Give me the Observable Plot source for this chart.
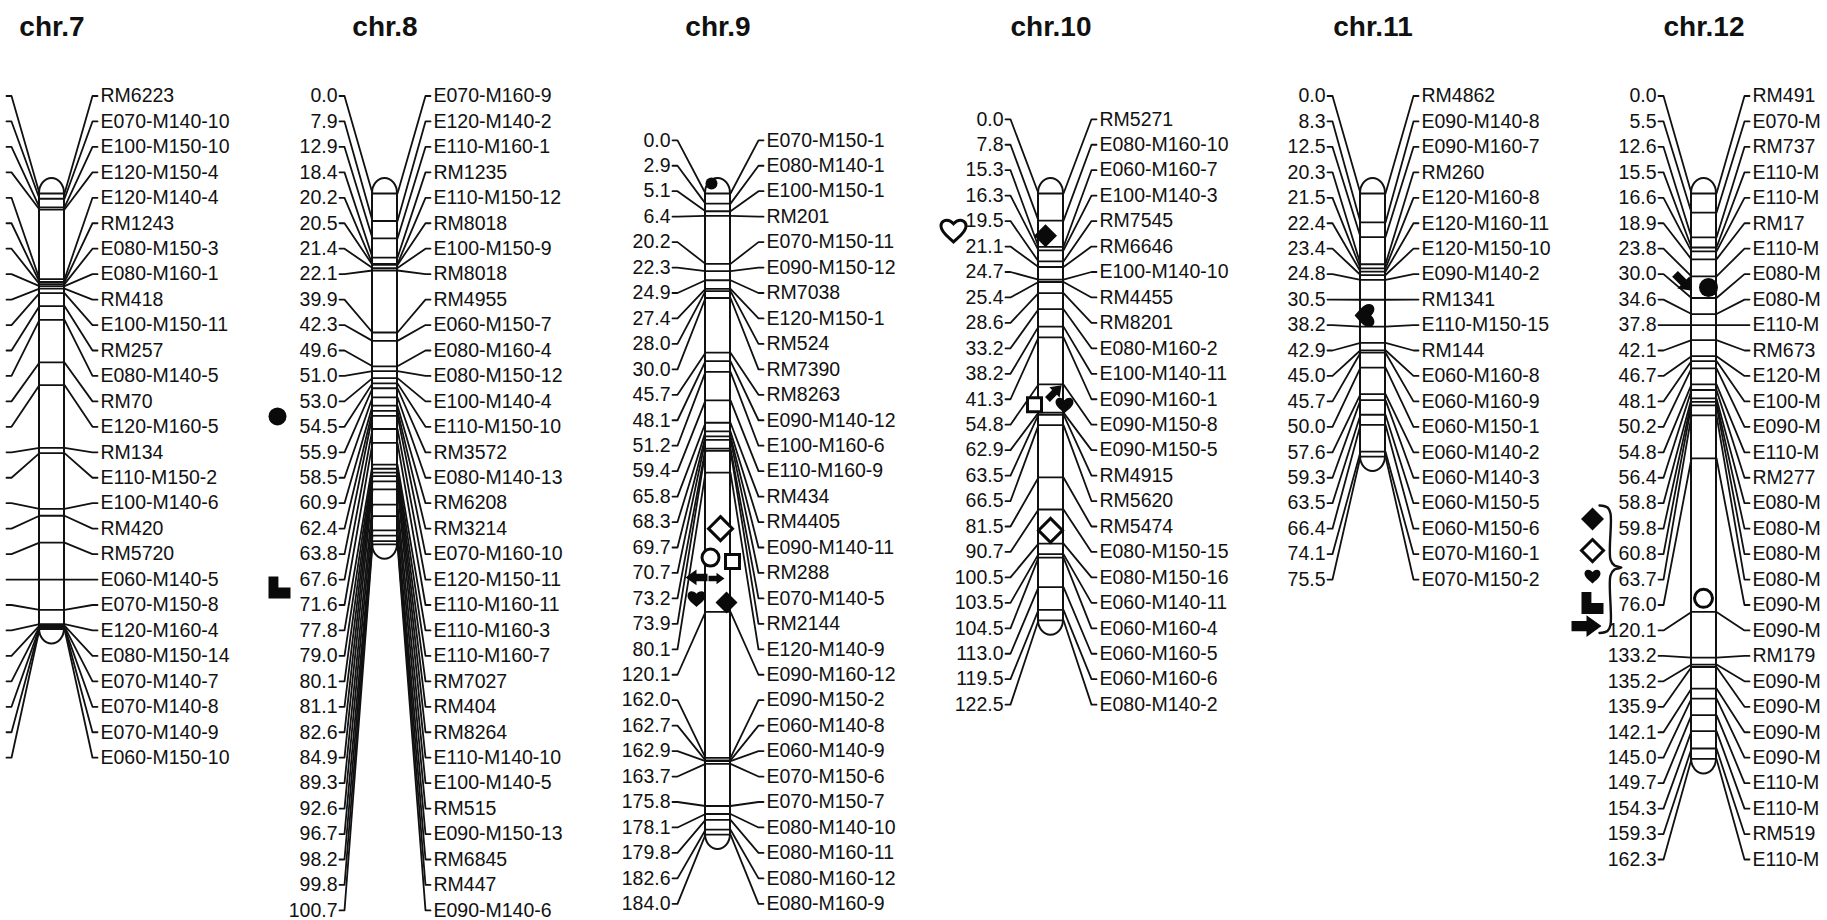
<!DOCTYPE html>
<html><head><meta charset="utf-8">
<script src="https://cdn.jsdelivr.net/npm/d3@7"></script>
<script src="https://cdn.jsdelivr.net/npm/@observablehq/plot@0.6"></script>
<style>
html,body{margin:0;padding:0;background:#fff;overflow:hidden;}
#chart{width:1827px;height:920px;overflow:hidden;}
</style></head><body><div id="chart"></div>
<script>
// ================= DATA =================
const chromosomes = ["chr.7","chr.8","chr.9","chr.10","chr.11","chr.12"];

const chr7Markers = ["RM6223","E070-M140-10","E100-M150-10","E120-M150-4","E120-M140-4","RM1243","E080-M150-3","E080-M160-1","RM418","E100-M150-11","RM257","E080-M140-5","RM70","E120-M160-5","RM134","E110-M150-2","E100-M140-6","RM420","RM5720","E060-M140-5","E070-M150-8","E120-M160-4","E080-M150-14","E070-M140-7","E070-M140-8","E070-M140-9","E060-M150-10"];
// chr.7 position labels are cut off in the source: estimated from the band placement
const chr7Positions = [0.0,1.5,4.0,4.6,24.6,25.4,26.0,26.6,27.3,28.6,32.3,36.3,48.5,55.0,73.0,74.5,90.5,92.5,100.2,110.8,119.5,123.6,124.0,124.3,124.6,124.8,125.0];

const chr8Markers = ["E070-M160-9","E120-M140-2","E110-M160-1","RM1235","E110-M150-12","RM8018","E100-M150-9","RM8018","RM4955","E060-M150-7","E080-M160-4","E080-M150-12","E100-M140-4","E110-M150-10","RM3572","E080-M140-13","RM6208","RM3214","E070-M160-10","E120-M150-11","E110-M160-11","E110-M160-3","E110-M160-7","RM7027","RM404","RM8264","E110-M140-10","E100-M140-5","RM515","E090-M150-13","RM6845","RM447","E090-M140-6"];
const chr8Positions = [0.0,7.9,12.9,18.4,20.2,20.5,21.4,22.1,39.9,42.3,49.6,51.0,53.0,54.5,55.9,58.5,60.9,62.4,63.8,67.6,71.6,77.8,79.0,80.1,81.1,82.6,84.9,89.3,92.6,96.7,98.2,99.8,100.7];

const chr9Markers = ["E070-M150-1","E080-M140-1","E100-M150-1","RM201","E070-M150-11","E090-M150-12","RM7038","E120-M150-1","RM524","RM7390","RM8263","E090-M140-12","E100-M160-6","E110-M160-9","RM434","RM4405","E090-M140-11","RM288","E070-M140-5","RM2144","E120-M140-9","E090-M160-12","E090-M150-2","E060-M140-8","E060-M140-9","E070-M150-6","E070-M150-7","E080-M140-10","E080-M160-11","E080-M160-12","E080-M160-9"];
const chr9Positions = [0.0,2.9,5.1,6.4,20.2,22.3,24.9,27.4,28.0,30.0,45.7,48.1,51.2,59.4,65.8,68.3,69.7,70.7,73.2,73.9,80.1,120.1,162.0,162.7,162.9,163.7,175.8,178.1,179.8,182.6,184.0];

const chr10Markers = ["RM5271","E080-M160-10","E060-M160-7","E100-M140-3","RM7545","RM6646","E100-M140-10","RM4455","RM8201","E080-M160-2","E100-M140-11","E090-M160-1","E090-M150-8","E090-M150-5","RM4915","RM5620","RM5474","E080-M150-15","E080-M150-16","E060-M140-11","E060-M160-4","E060-M160-5","E060-M160-6","E080-M140-2"];
const chr10Positions = [0.0,7.8,15.3,16.3,19.5,21.1,24.7,25.4,28.6,33.2,38.2,41.3,54.8,62.9,63.5,66.5,81.5,90.7,100.5,103.5,104.5,113.0,119.5,122.5];

const chr11Markers = ["RM4862","E090-M140-8","E090-M160-7","RM260","E120-M160-8","E120-M160-11","E120-M150-10","E090-M140-2","RM1341","E110-M150-15","RM144","E060-M160-8","E060-M160-9","E060-M150-1","E060-M140-2","E060-M140-3","E060-M150-5","E060-M150-6","E070-M160-1","E070-M150-2"];
const chr11Positions = [0.0,8.3,12.5,20.3,21.5,22.4,23.4,24.8,30.5,38.2,42.9,45.0,45.7,50.0,57.6,59.3,63.5,66.4,74.1,75.5];

// chr.12 marker names are cut by the right edge of the source: only the visible part is kept
const chr12Markers = ["RM491","E070-M","RM737","E110-M","E110-M","RM17","E110-M","E080-M","E080-M","E110-M","RM673","E120-M","E100-M","E090-M","E110-M","RM277","E080-M","E080-M","E080-M","E080-M","E090-M","E090-M","RM179","E090-M","E090-M","E090-M","E090-M","E110-M","E110-M","RM519","E110-M"];
const chr12Positions = [0.0,5.5,12.6,15.5,16.6,18.9,23.8,30.0,34.6,37.8,42.1,46.7,48.1,50.2,54.8,56.4,58.8,59.8,60.8,63.7,76.0,120.1,133.2,135.2,135.9,142.1,145.0,149.7,154.3,159.3,162.3];

// QTL symbols drawn on the chromosomes (position in cM)
const innerQtlChr   = ["chr.9","chr.9","chr.9","chr.9","chr.9","chr.9","chr.9","chr.9","chr.10","chr.10","chr.10","chr.10","chr.10","chr.11","chr.12","chr.12","chr.12"];
const innerQtlPos   = [-2.9,96.2,104.5,105.6,110.2,110.5,116.2,117.4,12.1,57.1,60.6,60.6,96.7,35.0,25.5,27.0,116.2];
const innerQtlShape = ["circle","diamond","circle","square","arrow","arrow","heart","diamond","diamond","arrow","heart","square","diamond","heart","arrow","circle","circle"];
const innerQtlOpen  = [false,true,true,true,false,false,false,false,false,false,false,true,true,false,false,false,true];

// QTL symbols drawn left of the position labels (anchored to label slot index)
const sideQtlChr   = ["chr.8","chr.8","chr.10","chr.12","chr.12","chr.12","chr.12","chr.12"];
const sideQtlSlot  = [12.59,19.31,4.35,16.62,17.86,18.86,19.92,20.83];
const sideQtlShape = ["circle","lblock","heart","diamond","diamond","heart","lblock","arrow"];
const sideQtlOpen  = [false,false,true,false,true,false,false,false];

// bracket grouping QTLs (label slot span)
const braceChr = ["chr.12"];
const braceFrom = [16.09];
const braceTip = [18.53];
const braceTo = [21.1];

// ================= LAYOUT (styling only) =================
const W = 1827, H = 920;
const Y0 = 193, PXCM = 3.484;          // pixel row of 0 cM, pixels per cM
const chromLeft = [39, 372, 705, 1038, 1360, 1691];
const CW = 25;                          // chromosome width
const labelTop = [95.5, 95.5, 139.8, 118.8, 95.5, 95.5];
const STEP = 25.45;                     // label spacing
const FONT = "'Liberation Sans', Arial, Helvetica, sans-serif";
const LFS = 19.5;
const INK = "#111";
const innerQtlDx = [-6.5,2.5,-7.5,14.5,-21.5,-1.5,-21.5,8.5,-5.5,3.5,13.5,-16.5,-0.5,-7.5,-20.5,4.5,-0.5];
const innerQtlR  = [6,12,8.5,7,11,8,9,11,11.5,10,9,7,12,11.5,12,9.5,9];
const innerQtlRot= [0,0,0,0,180,0,0,0,0,-45,0,0,0,90,45,0,0];
const sideQtlDx = [-95,-93,-85,-99,-99,-99,-99,-105];
const sideQtlR  = [9,11,12.5,11.5,11,8,11,15];

const toCM = px => (px - Y0) / PXCM;
const labelY = (k, slot) => toCM(labelTop[k] + slot * STEP);

// custom symbols
const rOf = size => Math.sqrt(size / Math.PI);
const SYM = {
  circle: "circle",
  diamond: {draw(c, s){const r=rOf(s); c.moveTo(0,-r); c.lineTo(r,0); c.lineTo(0,r); c.lineTo(-r,0); c.closePath();}},
  square: {draw(c, s){const r=rOf(s); c.moveTo(-r,-r); c.lineTo(r,-r); c.lineTo(r,r); c.lineTo(-r,r); c.closePath();}},
  heart: {draw(c, s){const r=rOf(s);
    c.moveTo(0,0.95*r);
    c.bezierCurveTo(-0.35*r,0.6*r,-r,0.2*r,-r,-0.3*r);
    c.bezierCurveTo(-r,-0.78*r,-0.45*r,-0.98*r,0,-0.5*r);
    c.bezierCurveTo(0.45*r,-0.98*r,r,-0.78*r,r,-0.3*r);
    c.bezierCurveTo(r,0.2*r,0.35*r,0.6*r,0,0.95*r);
    c.closePath();}},
  arrow: {draw(c, s){const r=rOf(s), sh=0.34*r, h=0.72*r, n=0.0;
    c.moveTo(-r,-sh); c.lineTo(n,-sh); c.lineTo(n,-h); c.lineTo(r,0); c.lineTo(n,h); c.lineTo(n,sh); c.lineTo(-r,sh); c.closePath();}},
  lblock: {draw(c, s){const r=rOf(s);
    c.moveTo(-r,-r); c.lineTo(-0.1*r,-r); c.lineTo(-0.1*r,0); c.lineTo(r,0); c.lineTo(r,r); c.lineTo(-r,r); c.closePath();}}
};

// ================= BUILD =================
const markerLists = [chr7Markers, chr8Markers, chr9Markers, chr10Markers, chr11Markers, chr12Markers];
const positionLists = [chr7Positions, chr8Positions, chr9Positions, chr10Positions, chr11Positions, chr12Positions];

const rows = [];
chromosomes.forEach((chr, k) => markerLists[k].forEach((name, i) =>
  rows.push({chr, k, i, name, pos: positionLists[k][i]})));

const chromRows = chromosomes.map((chr, k) => ({chr, k, len: d3.max(positionLists[k])}));

const conn = rows.flatMap(r => {
  const cl = chromLeft[r.k], cr = cl + CW, ly = labelY(r.k, r.i), id = r.chr + "_" + r.i;
  return [
    {id, x: cl - 33, y: ly}, {id, x: cl - 28, y: ly}, {id, x: cl, y: r.pos},
    {id, x: cr, y: r.pos}, {id, x: cr + 28, y: ly}, {id, x: cr + 33, y: ly}
  ];
});

const marks = [
  Plot.rect(chromRows, {
    x1: d => chromLeft[d.k], x2: d => chromLeft[d.k] + CW, y1: 0, y2: "len",
    insetTop: -15, insetBottom: -15, rx: 12.5, ry: 15,
    fill: "white", stroke: INK, strokeWidth: 2
  }),
  Plot.line(conn, {x: "x", y: "y", z: "id", stroke: INK, strokeWidth: 1.8, curve: "linear"}),
  Plot.text(rows.filter(r => r.k > 0), {
    x: r => chromLeft[r.k] - 35, y: r => labelY(r.k, r.i), text: r => r.pos.toFixed(1),
    textAnchor: "end", fontSize: LFS, fontFamily: FONT, fill: INK
  }),
  Plot.text(rows, {
    x: r => chromLeft[r.k] + CW + 36, y: r => labelY(r.k, r.i), text: "name",
    textAnchor: "start", fontSize: LFS, fontFamily: FONT, fill: INK
  }),
  Plot.text(chromRows, {
    x: d => chromLeft[d.k] + CW / 2, y: toCM(35), text: "chr", lineAnchor: "bottom",
    fontSize: 28, fontWeight: "bold", fontFamily: FONT, fill: "#111"
  })
];

// braces
braceChr.forEach((chr, j) => {
  const k = chromosomes.indexOf(chr), cl = chromLeft[k];
  const top = labelTop[k] + braceFrom[j] * STEP, tip = labelTop[k] + braceTip[j] * STEP, bot = labelTop[k] + braceTo[j] * STEP;
  const xl = cl - 92, xm = cl - 81, xt = cl - 70;
  const pts = [[xl, top], [xm - 3, top + 2], [xm, top + 8], [xm, tip - 8], [xm + 4, tip - 2], [xt, tip],
               [xm + 4, tip + 2], [xm, tip + 8], [xm, bot - 8], [xm - 3, bot - 2], [xl, bot]]
    .map(([x, y]) => ({x, y: toCM(y)}));
  marks.push(Plot.line(pts, {x: "x", y: "y", stroke: INK, strokeWidth: 2.4, curve: "catmull-rom"}));
});

// inner QTL symbols
innerQtlChr.forEach((chr, j) => {
  const k = chromosomes.indexOf(chr);
  const open = innerQtlOpen[j];
  marks.push(Plot.dot([{pos: innerQtlPos[j]}], {
    x: () => chromLeft[k] + CW / 2 + innerQtlDx[j], y: "pos",
    r: innerQtlR[j], symbol: SYM[innerQtlShape[j]], rotate: innerQtlRot[j],
    fill: open ? "white" : "#0a0a0a", stroke: open ? "#0a0a0a" : "none", strokeWidth: open ? 3 : 0
  }));
});

// side QTL symbols
sideQtlChr.forEach((chr, j) => {
  const k = chromosomes.indexOf(chr);
  const open = sideQtlOpen[j];
  marks.push(Plot.dot([{slot: sideQtlSlot[j]}], {
    x: () => chromLeft[k] + sideQtlDx[j], y: d => labelY(k, d.slot),
    r: sideQtlR[j], symbol: SYM[sideQtlShape[j]],
    fill: open ? "white" : "#0a0a0a", stroke: open ? "#0a0a0a" : "none", strokeWidth: open ? 3 : 0
  }));
});

const chart = Plot.plot({
  width: W, height: H,
  marginTop: 0, marginBottom: 0, marginLeft: 0, marginRight: 0,
  x: {type: "linear", domain: [0, W], range: [0, W], axis: null},
  y: {type: "linear", domain: [toCM(0), toCM(H)], range: [0, H], axis: null},
  style: {overflow: "hidden", background: "white", fontFamily: FONT},
  marks
});
document.getElementById("chart").appendChild(chart);
</script>
</body></html>
